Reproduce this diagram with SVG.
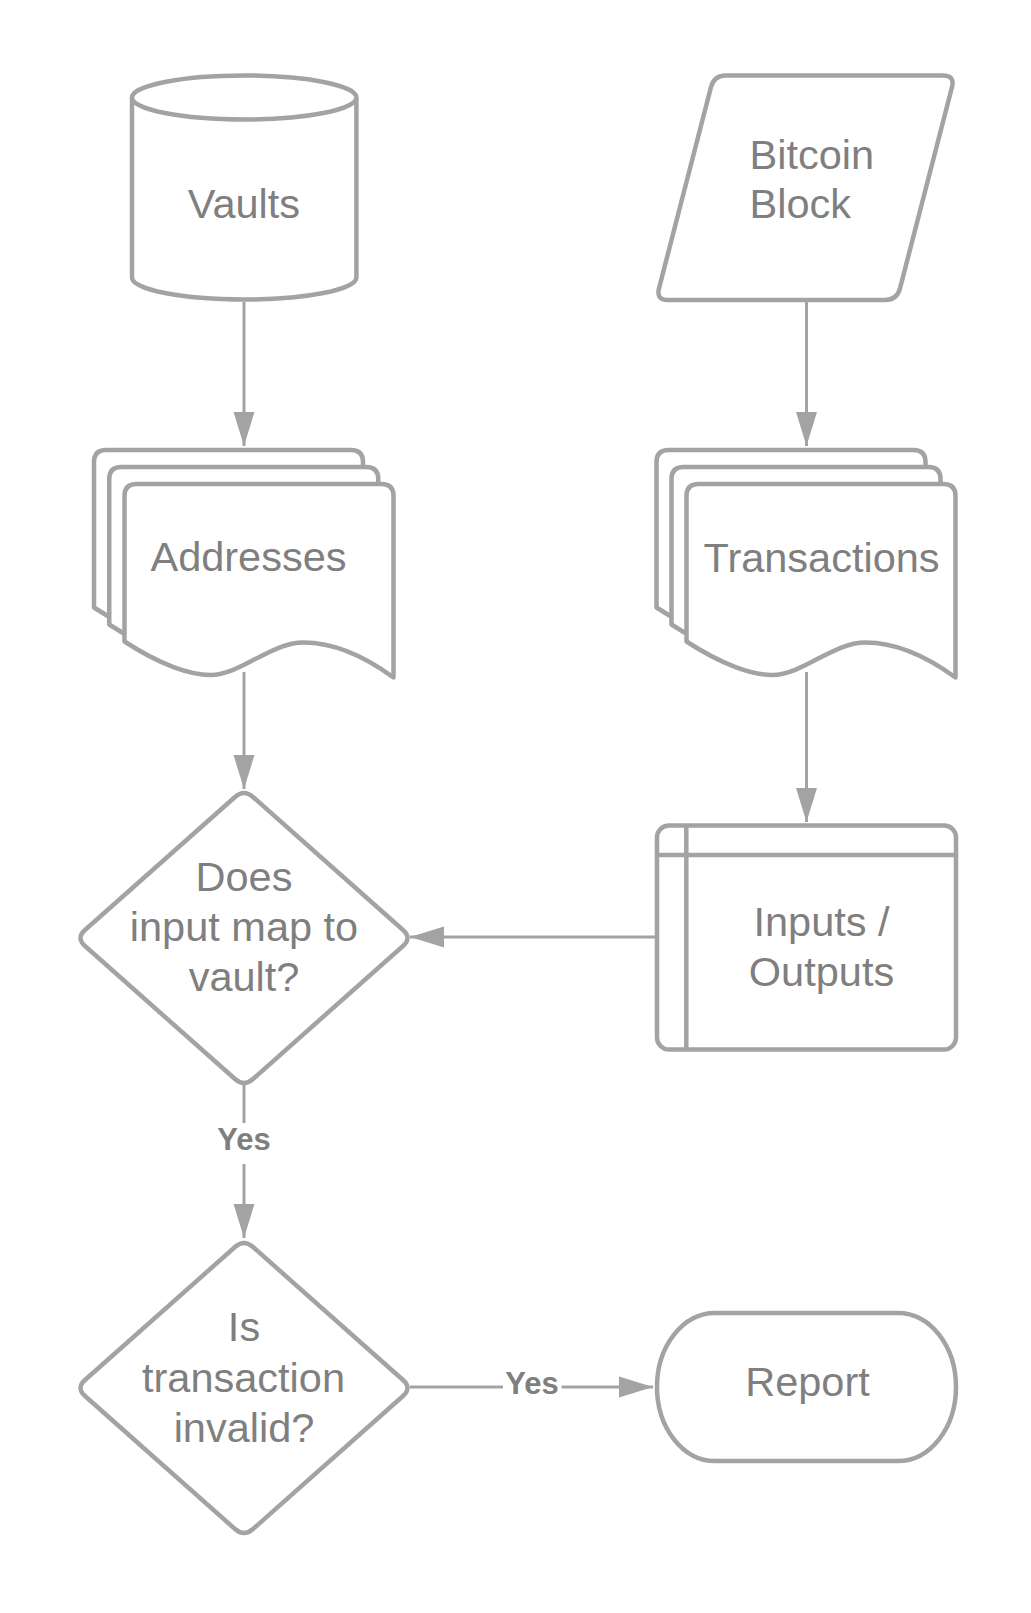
<svg xmlns="http://www.w3.org/2000/svg" width="1031" height="1613" viewBox="0 0 1031 1613">
<style>
.shape{fill:#ffffff;stroke:#a3a3a3;stroke-width:4.5;stroke-linejoin:round}
.inner{fill:none;stroke:#a3a3a3;stroke-width:4.5}
.lbl{font-family:"Liberation Sans",Arial,sans-serif;font-size:41.5px;fill:#7f7f7f}
.mid{text-anchor:middle}
.conn{fill:none;stroke:#a3a3a3;stroke-width:3}
.elbl{font-family:"Liberation Sans",Arial,sans-serif;font-size:31px;font-weight:bold;fill:#7f7f7f;text-anchor:middle}
</style>
<defs>
<marker id="arr" markerUnits="userSpaceOnUse" markerWidth="34" markerHeight="22" refX="34" refY="11" orient="auto">
<path d="M0,0.5 L34,11 L0,21.5 Z" fill="#a3a3a3"/>
</marker>
<path id="doc" d="M0,157.5 L0,12 Q0,0 12,0 L257,0 Q269,0 269,12 L269,193.5 C241,173 211,158.5 179,158.5 C146,158.5 116,191 86,191 C66,191 36,181 0,157.5 Z"/>
<path id="dia" d="M8.98,-141.04 L159.02,-7.96 Q168,0 159.02,7.96 L8.98,141.04 Q0,149 -8.98,141.04 L-159.02,7.96 Q-168,0 -159.02,-7.96 L-8.98,-141.04 Q0,-149 8.98,-141.04 Z"/>
</defs>
<rect width="1031" height="1613" fill="#ffffff"/>

<g id="connectors">
<path class="conn" d="M244,302 L244,446" marker-end="url(#arr)"/>
<path class="conn" d="M806.5,302 L806.5,446" marker-end="url(#arr)"/>
<path class="conn" d="M244,672 L244,789" marker-end="url(#arr)"/>
<path class="conn" d="M806.5,672 L806.5,822" marker-end="url(#arr)"/>
<path class="conn" d="M655,937 L410,937" marker-end="url(#arr)"/>
<path class="conn" d="M244,1085 L244,1238" marker-end="url(#arr)"/>
<rect x="212" y="1123" width="64" height="41" fill="#ffffff"/>
<text class="elbl" x="244" y="1150">Yes</text>
<path class="conn" d="M410,1387 L653,1387" marker-end="url(#arr)"/>
<rect x="503" y="1369" width="58.5" height="34" fill="#ffffff"/>
<text class="elbl" x="532" y="1394">Yes</text>
</g>

<g id="vaults">
<path class="shape" d="M132,97.5 L132,277.5 A112.2,22 0 0 0 356.4,277.5 L356.4,97.5"/>
<ellipse class="shape" cx="244.2" cy="97.5" rx="112.2" ry="22"/>
<text class="lbl mid" x="244" y="217.6">Vaults</text>
</g>

<g id="bitcoin-block">
<path class="shape" d="M726,75.4 L943,75.4 Q955,75.4 952,87 L900,288.4 Q897,300 885,300 L668,300 Q656,300 659,288.4 L711,87 Q714,75.4 726,75.4 Z"/>
<text class="lbl" x="749.5" y="168.7">Bitcoin</text>
<text class="lbl" x="749.5" y="218">Block</text>
</g>

<g id="addresses">
<use href="#doc" class="shape" x="94" y="450"/>
<use href="#doc" class="shape" x="109.25" y="467"/>
<use href="#doc" class="shape" x="124.5" y="484"/>
<text class="lbl mid" x="248.5" y="571">Addresses</text>
</g>

<g id="transactions">
<use href="#doc" class="shape" x="656.5" y="450"/>
<use href="#doc" class="shape" x="671.5" y="467"/>
<use href="#doc" class="shape" x="686.5" y="484"/>
<text class="lbl mid" x="821.6" y="571.5">Transactions</text>
</g>

<g id="inputs-outputs">
<rect class="shape" x="657" y="825.5" width="299" height="224" rx="12" ry="12"/>
<line class="inner" x1="657" y1="855" x2="956" y2="855"/>
<line class="inner" x1="686.3" y1="825.5" x2="686.3" y2="1049.5"/>
<text class="lbl mid" x="821.5" y="936">Inputs /</text>
<text class="lbl mid" x="821.5" y="986">Outputs</text>
</g>

<g id="decision-vault">
<use href="#dia" class="shape" x="244" y="938"/>
<text class="lbl mid" x="244" y="891">Does</text>
<text class="lbl mid" x="244" y="940.5">input map to</text>
<text class="lbl mid" x="244" y="991">vault?</text>
</g>

<g id="decision-invalid">
<use href="#dia" class="shape" x="244" y="1388"/>
<text class="lbl mid" x="244" y="1341">Is</text>
<text class="lbl mid" x="243.5" y="1391.5">transaction</text>
<text class="lbl mid" x="244" y="1441.5">invalid?</text>
</g>

<g id="report">
<rect class="shape" x="657" y="1313" width="299" height="148" rx="58" ry="74"/>
<text class="lbl mid" x="807.5" y="1396">Report</text>
</g>
</svg>
